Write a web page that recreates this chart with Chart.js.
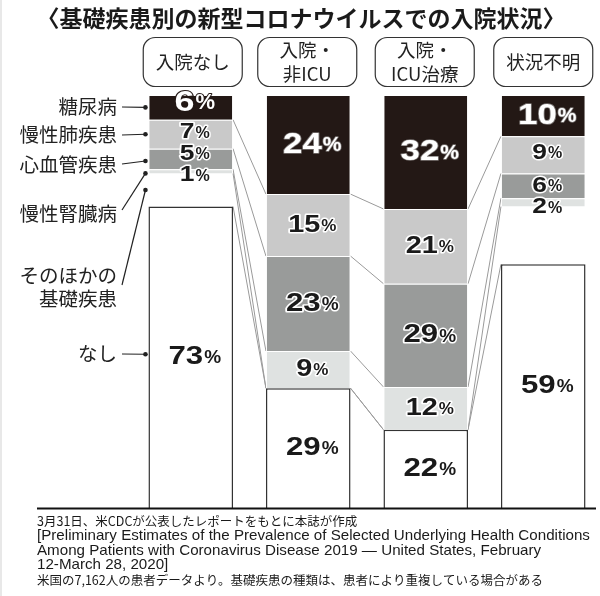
<!DOCTYPE html>
<html>
<head>
<meta charset="utf-8">
<style>
  html, body { margin: 0; padding: 0; background: #fff; overflow: hidden; }
  #box { width: 604px; height: 596px; }
</style>
<script src="https://cdn.jsdelivr.net/npm/chart.js@4"></script>
</head>
<body>
<div id="box"><canvas id="myChart"></canvas></div>
<script>
// values as printed, one array per condition, one entry per column
var columns = ['入院なし', '入院・非ICU', '入院・ICU治療', '状況不明'];
var diabetes = [6, 24, 32, 10];
var lung = [7, 15, 21, 9];
var cardio = [5, 23, 29, 6];
var kidney = [1, 9, 12, 2];
var other = [8, 0, 0, 14];   // no printed number, only the blank gap in the column
var none = [73, 29, 22, 59];
var columnTotal = [100, 100, 116, 100]; // the third column adds up to 116% but is drawn the same height

var titleText = '〈基礎疾患別の新型コロナウイルスでの入院状況〉';
var headerLines = [['入院なし'], ['入院・', '非ICU'], ['入院・', 'ICU治療'], ['状況不明']];
var footerLines = [
  '3月31日、米CDCが公表したレポートをもとに本誌が作成',
  '[Preliminary Estimates of the Prevalence of Selected Underlying Health Conditions',
  'Among Patients with Coronavirus Disease 2019 — United States, February',
  '12-March 28, 2020]',
  '米国の7,162人の患者データより。基礎疾患の種類は、患者により重複している場合がある'
];

var jpFont = '"Noto Sans CJK JP", sans-serif';

function norm(arr) {
  return arr.map(function (v, i) { return v * 100 / columnTotal[i]; });
}

// order is bottom to top of the stack
var series = [
  { name: 'なし', values: none, color: '#ffffff', border: '#333333', bw: 1.5 },
  { name: 'そのほかの基礎疾患', values: other, color: 'rgba(0,0,0,0)', border: 'rgba(0,0,0,0)', bw: 0 },
  { name: '慢性腎臓病', values: kidney, color: '#dfe2e1', border: '#ffffff', bw: 1 },
  { name: '心血管疾患', values: cardio, color: '#999b9a', border: '#ffffff', bw: 1 },
  { name: '慢性肺疾患', values: lung, color: '#c9c9c9', border: '#ffffff', bw: 1 },
  { name: '糖尿病', values: diabetes, color: '#231815', border: '#ffffff', bw: 1 }
];

// label size and nudge for the numbers, per dataset then per column
var numberSize = {
  0: [26, 26, 26, 26],
  2: [22, 24, 24, 22],
  3: [22, 26, 26, 22],
  4: [22, 24, 24, 22],
  5: [30, 29, 29, 29]
};
var numberShift = {
  0: [0, 0, 0, 0],
  2: [4, 0, 0, 5],
  3: [-5, 0, 0, 0],
  4: [-2, 0, 0, -2],
  5: [-5, 0, 0, 0]
};
var headerShift = [2, -1, -1, 0];

// callouts on the left: dataset index, text lines, text y, y where the leader leaves the text
var callouts = [
  { ds: 5, lines: ['糖尿病'], y: 107, leaderY: 107, dotShift: 0 },
  { ds: 4, lines: ['慢性肺疾患'], y: 135, leaderY: 135, dotShift: 0 },
  { ds: 3, lines: ['心血管疾患'], y: 165, leaderY: 164, dotShift: 2 },
  { ds: 2, lines: ['慢性腎臓病'], y: 214, leaderY: 210, dotShift: 2 },
  { ds: 1, lines: ['そのほかの', '基礎疾患'], y: 276, leaderY: 285, dotShift: 0 },
  { ds: 0, lines: ['なし'], y: 354, leaderY: 354, dotShift: -3 }
];

function drawNumber(ctx, text, x, y, size, fill, halo, haloWidth) {
  var wide = 1.2;
  var numFont = 'bold ' + size + 'px "Liberation Sans", sans-serif';
  var pctFont = 'bold ' + Math.round(size * 0.72) + 'px "Liberation Sans", sans-serif';
  ctx.save();
  ctx.textBaseline = 'middle';
  ctx.textAlign = 'left';
  ctx.lineJoin = 'round';
  ctx.font = numFont;
  var w1 = ctx.measureText(text).width * wide;
  ctx.font = pctFont;
  var w2 = ctx.measureText('%').width;
  var left = x - (w1 + w2 + 1) / 2;
  ctx.lineWidth = haloWidth;
  ctx.strokeStyle = halo;
  ctx.fillStyle = fill;

  ctx.save();
  ctx.translate(left, y);
  ctx.scale(wide, 1);
  ctx.font = numFont;
  if (haloWidth > 0) ctx.strokeText(text, 0, 0);
  ctx.fillText(text, 0, 0);
  ctx.restore();

  ctx.font = pctFont;
  if (haloWidth > 0) ctx.strokeText('%', left + w1 + 1, y + 1);
  ctx.fillText('%', left + w1 + 1, y + 1);
  ctx.restore();
}

function roundBox(ctx, x, y, w, h, r) {
  ctx.beginPath();
  ctx.roundRect(x, y, w, h, r);
  ctx.stroke();
}

var extras = {
  id: 'extras',
  beforeDatasetsDraw: function (chart) {
    var ctx = chart.ctx;
    var first = chart.getDatasetMeta(0).data;
    ctx.save();

    // faint scan edge on the left of the page
    ctx.fillStyle = '#e8e8e8';
    ctx.fillRect(0, 0, 2, 596);

    // grey lines joining the segments of neighbouring columns
    ctx.strokeStyle = '#9a9a9a';
    ctx.lineWidth = 1;
    for (var d = 0; d < 5; d++) {
      var bars = chart.getDatasetMeta(d).data;
      for (var c = 0; c < first.length - 1; c++) {
        ctx.beginPath();
        ctx.moveTo(bars[c].x + bars[c].width / 2, bars[c].y);
        ctx.lineTo(bars[c + 1].x - bars[c + 1].width / 2, bars[c + 1].y);
        ctx.stroke();
      }
    }
    ctx.restore();
  },
  afterDraw: function (chart) {
    var ctx = chart.ctx;
    var area = chart.chartArea;
    var xs = chart.scales.x;
    ctx.save();

    // base line
    ctx.strokeStyle = '#111111';
    ctx.lineWidth = 2;
    ctx.beginPath();
    ctx.moveTo(37, area.bottom + 0.5);
    ctx.lineTo(596, area.bottom + 0.5);
    ctx.stroke();

    // column headers in rounded boxes
    ctx.textAlign = 'center';
    ctx.textBaseline = 'middle';
    ctx.fillStyle = '#222222';
    ctx.font = '18.5px ' + jpFont;
    headerLines.forEach(function (lines, i) {
      var cx = xs.getPixelForTick(i) + headerShift[i];
      ctx.strokeStyle = '#333333';
      ctx.lineWidth = 1.2;
      roundBox(ctx, cx - 49.5, 37.5, 99, 49, 12);
      lines.forEach(function (line, n) {
        var y = lines.length === 1 ? 62 : 50 + n * 24;
        ctx.fillText(line, cx, y);
      });
    });

    // numbers on the segments
    series.forEach(function (s, d) {
      if (!numberSize[d]) return;
      var bars = chart.getDatasetMeta(d).data;
      bars.forEach(function (bar, i) {
        var y = (bar.y + bar.base) / 2 + numberShift[d][i];
        var x = bar.x + 4;
        var size = numberSize[d][i];
        if (d === 5) {
          var halo = i === 0 ? '#231815' : 'rgba(210,210,210,0.5)';
          drawNumber(ctx, String(s.values[i]), x, y, size, '#ffffff', halo, i === 0 ? 2 : 1.5);
        } else {
          drawNumber(ctx, String(s.values[i]), x, y, size, '#1a1a1a', '#ffffff', d === 0 ? 0 : 3);
        }
      });
    });

    // callout labels, leaders and dots
    ctx.textAlign = 'right';
    ctx.font = '19.5px ' + jpFont;
    callouts.forEach(function (c) {
      var bar = chart.getDatasetMeta(c.ds).data[0];
      var dotX = bar.x - bar.width / 2 - 3;
      var dotY = (bar.y + bar.base) / 2 + c.dotShift;
      ctx.fillStyle = '#222222';
      ctx.textBaseline = 'middle';
      c.lines.forEach(function (line, n) {
        ctx.fillText(line, 117, c.y + n * 23);
      });
      ctx.strokeStyle = '#222222';
      ctx.lineWidth = 1.2;
      ctx.beginPath();
      ctx.moveTo(122, c.leaderY);
      ctx.lineTo(dotX, dotY);
      ctx.stroke();
      ctx.beginPath();
      ctx.arc(dotX, dotY, 2.3, 0, Math.PI * 2);
      ctx.fill();
    });

    // source note under the chart
    ctx.textAlign = 'left';
    ctx.textBaseline = 'middle';
    ctx.fillStyle = '#1a1a1a';
    var footerY = [521, 536, 551, 565, 580];
    footerLines.forEach(function (line, i) {
      ctx.font = (i === 0 || i === 4 ? '12.5px ' + jpFont : '15.15px "Liberation Sans", sans-serif');
      ctx.fillText(line, 37, footerY[i]);
    });
    ctx.restore();
  }
};

function init() {
  var ctx = document.getElementById('myChart').getContext('2d');
  var chart = new Chart(ctx, {
    type: 'bar',
    data: {
      labels: columns,
      datasets: series.map(function (s) {
        return {
          label: s.name,
          data: norm(s.values),
          backgroundColor: s.color,
          borderColor: s.border,
          borderWidth: s.bw,
          barPercentage: 0.72,
          categoryPercentage: 1
        };
      })
    },
    options: {
      responsive: true,
      maintainAspectRatio: false,
      animation: false,
      layout: { padding: { top: 4, right: 2, bottom: 88, left: 0 } },
      plugins: {
        legend: { display: false },
        tooltip: { enabled: false },
        title: {
          display: true,
          text: titleText,
          color: '#1a1a1a',
          font: { family: jpFont, size: 23, weight: 'bold', lineHeight: 1.2 },
          padding: { top: 0, bottom: 63.4 }
        }
      },
      scales: {
        x: { stacked: true, display: false },
        y: {
          stacked: true,
          min: 0,
          max: 100,
          grid: { display: false },
          border: { display: false },
          ticks: { display: false },
          afterFit: function (scale) { scale.width = 132; }
        }
      }
    },
    plugins: [extras]
  });
}
init();
</script>
</body>
</html>
